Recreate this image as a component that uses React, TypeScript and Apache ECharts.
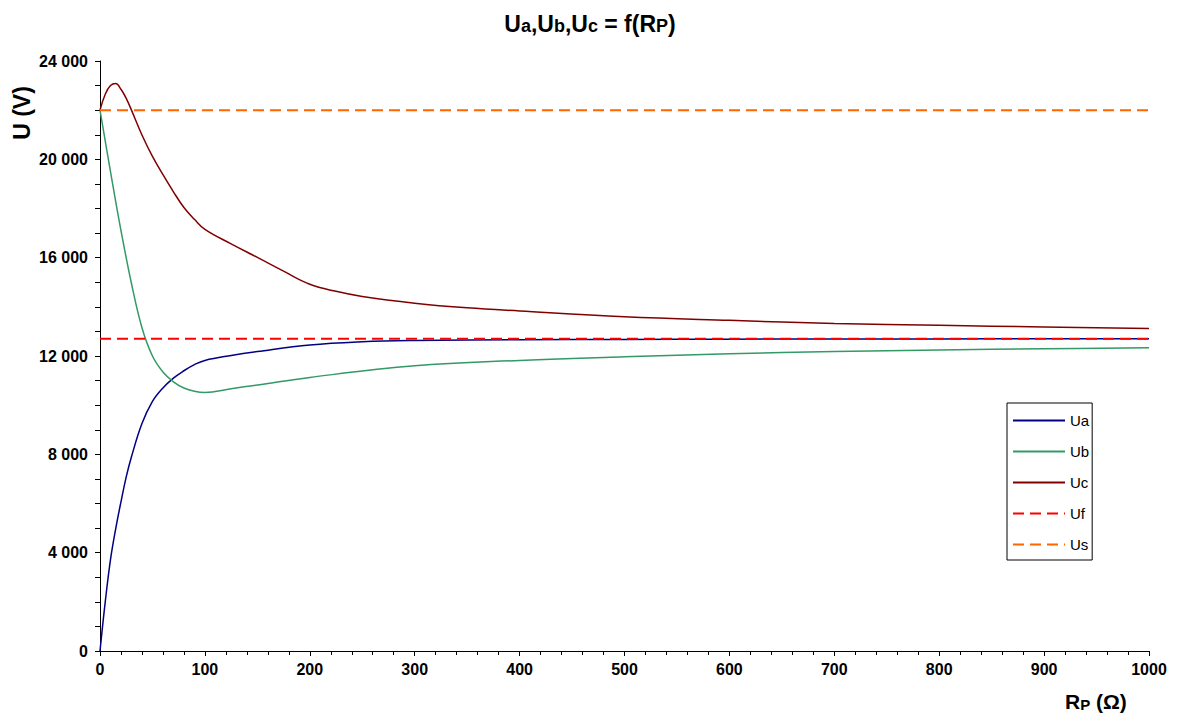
import React, { useEffect, useRef } from "react";
import * as echarts from "echarts";

const xUa = [0, 5, 10, 15, 20, 25, 30, 40, 50, 60, 70, 80, 90, 100, 125, 150, 200, 250, 300, 400, 500, 600, 700, 800, 900, 1000];
const yUa = [0, 2000, 3720, 4980, 6070, 7080, 7900, 9250, 10150, 10700, 11100, 11400, 11650, 11820, 12020, 12180, 12450, 12580, 12630, 12660, 12675, 12685, 12690, 12695, 12698, 12700];

const xUb = [0, 10, 20, 30, 40, 50, 60, 70, 80, 90, 100, 125, 150, 200, 300, 400, 500, 600, 700, 800, 900, 1000];
const yUb = [22000, 19500, 17100, 14950, 13150, 12000, 11350, 10950, 10700, 10570, 10520, 10670, 10820, 11130, 11600, 11820, 11970, 12090, 12180, 12245, 12295, 12335];

const xUc = [0, 5, 10, 15, 20, 25, 30, 40, 50, 60, 70, 80, 90, 100, 125, 150, 175, 200, 225, 250, 300, 350, 400, 500, 600, 700, 800, 900, 1000];
const yUc = [22000, 22650, 23000, 23080, 22850, 22480, 22000, 20990, 20120, 19380, 18680, 18040, 17560, 17150, 16560, 16010, 15450, 14920, 14630, 14420, 14150, 13960, 13830, 13600, 13450, 13320, 13250, 13180, 13120];

const xRange = [0, 1000];
const Uf = 12702;
const Us = 22000;

const pairs = (xs: number[], ys: number[]) => xs.map((x, i) => [x, ys[i]]);

const FONT = "'Liberation Sans', Arial, sans-serif";

export default function App() {
  const ref = useRef<HTMLDivElement>(null);
  useEffect(() => {
    if (!ref.current) return;
    const chart = echarts.init(ref.current, null, { renderer: "svg" });
    const lineSeries = (name: string, data: number[][], color: string, dashed: boolean) => ({
      name,
      type: "line",
      data,
      symbol: "none",
      showSymbol: false,
      smooth: dashed ? false : 0.4,
      lineStyle: {
        color,
        width: dashed ? 2 : 1.5,
        type: dashed ? [11, 6] : "solid",
      },
      itemStyle: { color },
    });
    chart.setOption({
      animation: false,
      backgroundColor: "#ffffff",
      textStyle: { fontFamily: FONT },
      grid: { left: 100, right: 31, top: 61, bottom: 62, containLabel: false },
      xAxis: {
        type: "value",
        min: 0,
        max: 1000,
        interval: 100,
        axisLine: { show: true, lineStyle: { color: "#000", width: 1 } },
        axisTick: { show: true, inside: false, length: 5, lineStyle: { color: "#000" } },
        minorTick: { show: true, splitNumber: 5, length: 4, lineStyle: { color: "#000" } },
        splitLine: { show: false },
        axisLabel: {
          color: "#000",
          fontWeight: "bold",
          fontSize: 16,
          margin: 10,
          fontFamily: FONT,
          formatter: (v: number) => String(v),
        },
      },
      yAxis: {
        type: "value",
        min: 0,
        max: 24000,
        interval: 4000,
        axisLine: { show: true, lineStyle: { color: "#000", width: 1 } },
        axisTick: { show: true, inside: false, length: 5, lineStyle: { color: "#000" } },
        minorTick: { show: true, splitNumber: 4, length: 5, lineStyle: { color: "#000" } },
        splitLine: { show: false },
        axisLabel: {
          color: "#000",
          fontWeight: "bold",
          fontSize: 16,
          margin: 12,
          fontFamily: FONT,
          formatter: (v: number) => String(v).replace(/\B(?=(\d{3})+(?!\d))/g, " "),
        },
      },
      legend: {
        show: true,
        orient: "vertical",
        left: 1007,
        top: 403,
        itemWidth: 52,
        itemHeight: 14,
        itemGap: 16,
        padding: [10, 3, 8, 5],
        borderColor: "#000",
        borderWidth: 1,
        backgroundColor: "#fff",
        itemStyle: { opacity: 0 },
        textStyle: { fontSize: 15, color: "#000", fontFamily: FONT },
        data: ["Ua", "Ub", "Uc", "Uf", "Us"],
      },
      series: [
        lineSeries("Ua", pairs(xUa, yUa), "#000080", false),
        lineSeries("Ub", pairs(xUb, yUb), "#339966", false),
        lineSeries("Uc", pairs(xUc, yUc), "#800000", false),
        lineSeries("Uf", [[xRange[0], Uf], [xRange[1], Uf]], "#FF0000", true),
        lineSeries("Us", [[xRange[0], Us], [xRange[1], Us]], "#FF6600", true),
      ],
      graphic: [
        {
          type: "text",
          left: "center",
          top: 12,
          style: {
            text: "{b|U}{s|a}{b|,U}{s|b}{b|,U}{s|c}{b| = f(R}{s|P}{b|)}",
            fontFamily: FONT,
            rich: {
              b: { fontSize: 23, fontWeight: "bold", fontFamily: FONT, fill: "#000", verticalAlign: "bottom" },
              s: { fontSize: 18, fontWeight: "bold", fontFamily: FONT, fill: "#000", verticalAlign: "bottom" },
            },
          },
        },
        {
          type: "text",
          x: 22,
          y: 113,
          rotation: Math.PI / 2,
          style: {
            text: "U (V)",
            fontSize: 23,
            fontWeight: "bold",
            fontFamily: FONT,
            fill: "#000",
            align: "center",
            verticalAlign: "middle",
          },
        },
        {
          type: "text",
          x: 1065,
          y: 691,
          style: {
            text: "{b|R}{s|P}{b| (Ω)}",
            fontFamily: FONT,
            rich: {
              b: { fontSize: 21, fontWeight: "bold", fontFamily: FONT, fill: "#000", verticalAlign: "bottom" },
              s: { fontSize: 15, fontWeight: "bold", fontFamily: FONT, fill: "#000", verticalAlign: "bottom" },
            },
          },
        },
      ],
    });
    return () => chart.dispose();
  }, []);
  return <div ref={ref} style={{ width: 1180, height: 713, position: "absolute", left: 0, top: 0 }} />;
}
